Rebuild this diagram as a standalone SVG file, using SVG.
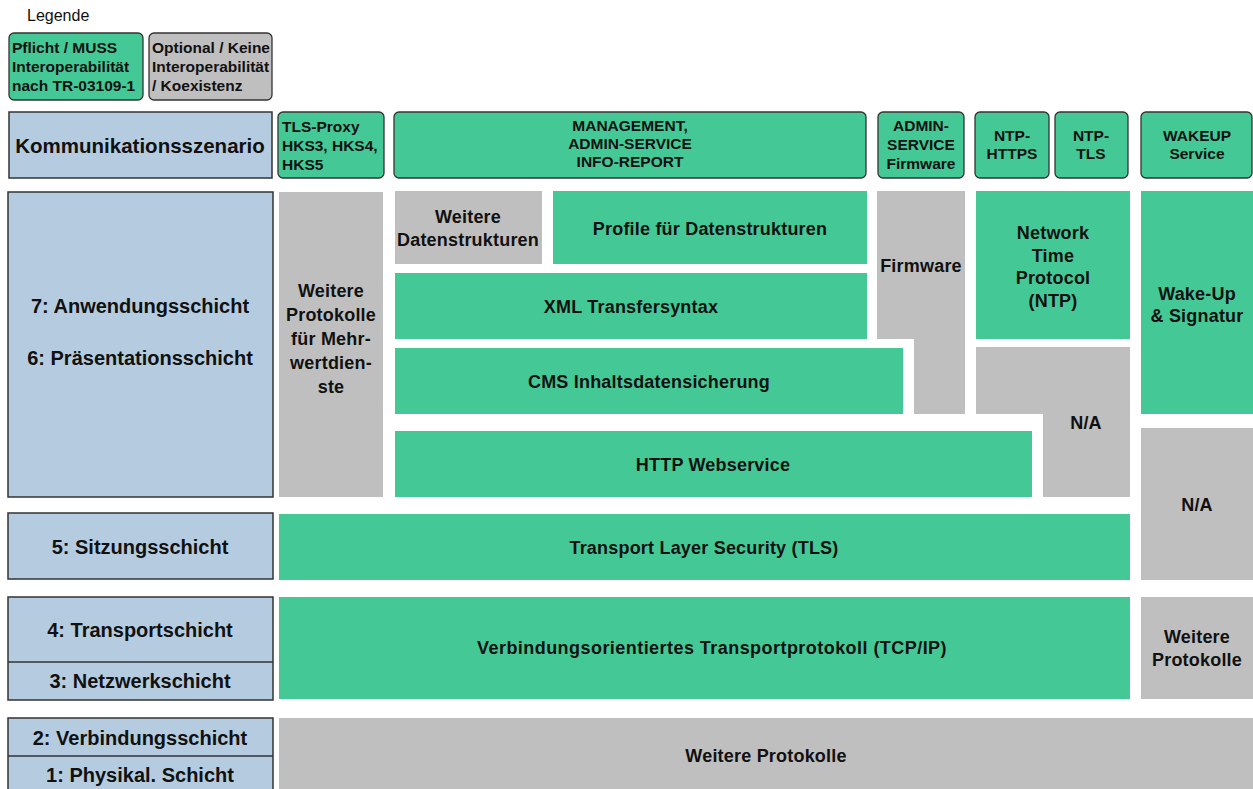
<svg xmlns="http://www.w3.org/2000/svg" width="1253" height="789" viewBox="0 0 1253 789">
<style>
text{font-family:"Liberation Sans",Arial,Helvetica,sans-serif;fill:#111;font-weight:bold}
.c{text-anchor:middle}
.g{fill:#44c996}
.gr{fill:#bfbfbf}
.bl{fill:#b5cce0;stroke:#333;stroke-width:1.5}
.hd{stroke:#333;stroke-width:1.3}
.t20{font-size:20px}
.t18{font-size:18px;letter-spacing:0.2px}
.t15{font-size:15.5px}
</style>
<rect width="1253" height="789" fill="#fff"/>

<g id="legend">
<text x="27" y="21" style="font-weight:normal;font-size:16px">Legende</text>
<g id="legend-pflicht">
<rect x="9" y="33" width="134" height="67" rx="5" class="g hd"/>
<text x="12" y="53" class="t15">Pflicht / MUSS</text>
<text x="12" y="72" class="t15">Interoperabilität</text>
<text x="12" y="91" class="t15">nach TR-03109-1</text>
</g>
<g id="legend-optional">
<rect x="149" y="33" width="123" height="67" rx="5" class="gr hd"/>
<text x="152" y="53" class="t15">Optional / Keine</text>
<text x="152" y="72" class="t15">Interoperabilität</text>
<text x="152" y="91" class="t15">/ Koexistenz</text>
</g>
</g>

<g id="hdr-szenario">
<rect x="9" y="112" width="263" height="66" class="bl"/>
<text x="140" y="153" class="c t20" style="font-size:20.5px">Kommunikationsszenario</text>
</g>
<g id="hdr-tlsproxy">
<rect x="278" y="112" width="106" height="66" rx="5" class="g hd"/>
<text x="282" y="132" class="t15">TLS-Proxy</text>
<text x="282" y="151" class="t15">HKS3, HKS4,</text>
<text x="282" y="170" class="t15">HKS5</text>
</g>
<g id="hdr-management">
<rect x="394" y="112" width="472" height="66" rx="5" class="g hd"/>
<text x="630" y="131" class="c t15">MANAGEMENT,</text>
<text x="630" y="149" class="c t15">ADMIN-SERVICE</text>
<text x="630" y="167" class="c t15">INFO-REPORT</text>
</g>
<g id="hdr-admin">
<rect x="878" y="112" width="86" height="66" rx="5" class="g hd"/>
<text x="921" y="131" class="c t15">ADMIN-</text>
<text x="921" y="150" class="c t15">SERVICE</text>
<text x="921" y="169" class="c t15">Firmware</text>
</g>
<g id="hdr-ntphttps">
<rect x="975" y="112" width="74" height="66" rx="5" class="g hd"/>
<text x="1012" y="141" class="c t15">NTP-</text>
<text x="1012" y="159" class="c t15">HTTPS</text>
</g>
<g id="hdr-ntptls">
<rect x="1055" y="112" width="73" height="66" rx="5" class="g hd"/>
<text x="1091" y="141" class="c t15">NTP-</text>
<text x="1091" y="159" class="c t15">TLS</text>
</g>
<g id="hdr-wakeup">
<rect x="1141" y="112" width="111" height="66" rx="5" class="g hd"/>
<text x="1197" y="141" class="c t15">WAKEUP</text>
<text x="1197" y="159" class="c t15">Service</text>
</g>

<g id="layer-7-6">
<rect x="8" y="192" width="265" height="305" class="bl"/>
<text x="140" y="313" class="c t20">7: Anwendungsschicht</text>
<text x="140" y="365" class="c t20">6: Präsentationsschicht</text>
</g>
<g id="layer-5">
<rect x="8" y="513" width="265" height="66" class="bl"/>
<text x="140" y="554" class="c t20">5: Sitzungsschicht</text>
</g>
<g id="layer-4-3">
<rect x="8" y="597" width="265" height="103" class="bl"/>
<line x1="8" y1="662" x2="273" y2="662" stroke="#333" stroke-width="1.5"/>
<text x="140" y="637" class="c t20">4: Transportschicht</text>
<text x="140" y="688" class="c t20">3: Netzwerkschicht</text>
</g>
<g id="layer-2-1">
<rect x="8" y="718" width="265" height="90" class="bl"/>
<line x1="8" y1="756" x2="273" y2="756" stroke="#333" stroke-width="1.5"/>
<text x="140" y="745" class="c t20">2: Verbindungsschicht</text>
<text x="140" y="782" class="c t20">1: Physikal. Schicht</text>
</g>

<g id="mehrwertdienste">
<rect x="279" y="192" width="104" height="305" class="gr"/>
<text x="331" y="297" class="c t18">Weitere</text>
<text x="331" y="321" class="c t18">Protokolle</text>
<text x="331" y="345" class="c t18">für Mehr-</text>
<text x="331" y="369" class="c t18">wertdien-</text>
<text x="331" y="393" class="c t18">ste</text>
</g>
<g id="weitere-datenstrukturen">
<rect x="395" y="191" width="147" height="73" class="gr"/>
<text x="468" y="223" class="c t18">Weitere</text>
<text x="468" y="246" class="c t18">Datenstrukturen</text>
</g>
<g id="profile">
<rect x="553" y="191" width="314" height="73" class="g"/>
<text x="710" y="235" class="c t18">Profile für Datenstrukturen</text>
</g>
<g id="xml">
<rect x="395" y="273" width="472" height="66" class="g"/>
<text x="631" y="313" class="c t18">XML Transfersyntax</text>
</g>
<g id="cms">
<rect x="395" y="348" width="508" height="66" class="g"/>
<text x="649" y="388" class="c t18">CMS Inhaltsdatensicherung</text>
</g>
<g id="http">
<rect x="395" y="431" width="637" height="66" class="g"/>
<text x="713" y="471" class="c t18">HTTP Webservice</text>
</g>
<g id="firmware">
<polygon points="877,191 965,191 965,414 914,414 914,339 877,339" class="gr"/>
<text x="921" y="272" class="c t18">Firmware</text>
</g>
<g id="ntp">
<rect x="976" y="191" width="154" height="148" class="g"/>
<text x="1053" y="239" class="c t18">Network</text>
<text x="1053" y="262" class="c t18">Time</text>
<text x="1053" y="284" class="c t18">Protocol</text>
<text x="1053" y="307" class="c t18">(NTP)</text>
</g>
<g id="na-middle">
<polygon points="976,347 1130,347 1130,497 1043,497 1043,414 976,414" class="gr"/>
<text x="1086" y="429" class="c t18">N/A</text>
</g>
<g id="wakeup">
<rect x="1141" y="191" width="112" height="223" class="g"/>
<text x="1197" y="300" class="c t18">Wake-Up</text>
<text x="1197" y="322" class="c t18">&amp; Signatur</text>
</g>
<g id="na-right">
<rect x="1141" y="428" width="112" height="152" class="gr"/>
<text x="1197" y="511" class="c t18">N/A</text>
</g>
<g id="tls">
<rect x="279" y="514" width="851" height="66" class="g"/>
<text x="704" y="554" class="c t18">Transport Layer Security (TLS)</text>
</g>
<g id="tcpip">
<rect x="279" y="597" width="851" height="102" class="g"/>
<text x="712" y="654" class="c t18" style="letter-spacing:0.45px">Verbindungsorientiertes Transportprotokoll (TCP/IP)</text>
</g>
<g id="weitere-protokolle-right">
<rect x="1141" y="597" width="112" height="102" class="gr"/>
<text x="1197" y="643" class="c t18">Weitere</text>
<text x="1197" y="666" class="c t18">Protokolle</text>
</g>
<g id="weitere-protokolle-bottom">
<rect x="279" y="718" width="974" height="80" class="gr"/>
<text x="766" y="762" class="c t18">Weitere Protokolle</text>
</g>
<g id="connectors"></g>
</svg>
